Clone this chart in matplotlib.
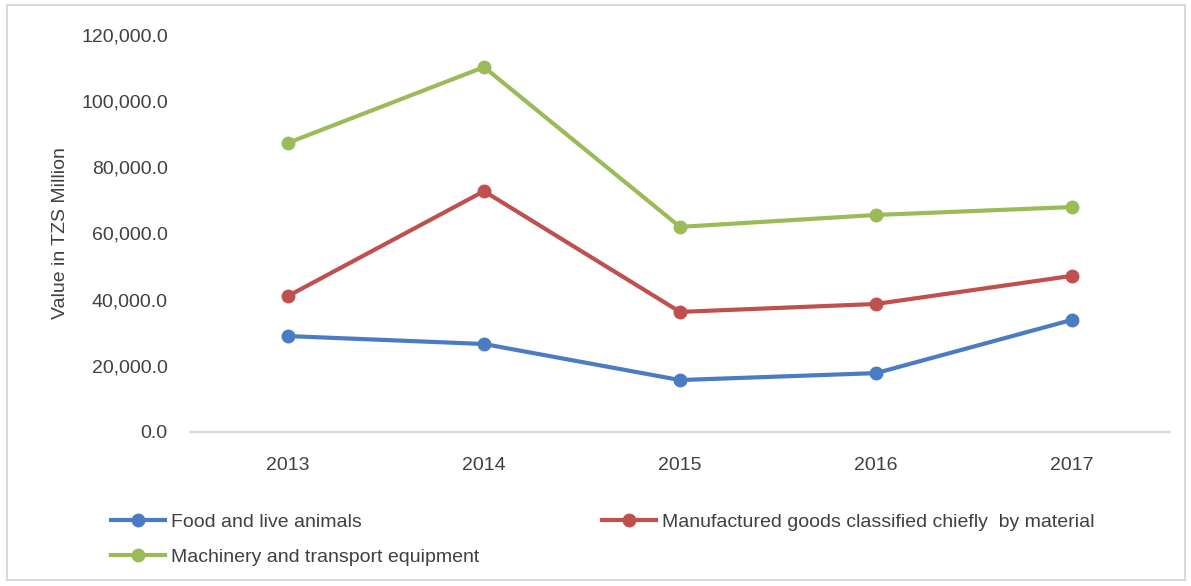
import matplotlib.pyplot as plt
from matplotlib.patches import Rectangle
from matplotlib.ticker import FuncFormatter

years = ["2013", "2014", "2015", "2016", "2017"]
food = [29000, 26600, 15700, 17800, 33900]
manufactured = [41100, 72800, 36300, 38700, 47200]
machinery = [87400, 110300, 62000, 65600, 68000]

labels = ["Food and live animals",
          "Manufactured goods classified chiefly  by material",
          "Machinery and transport equipment"]
colors = ["#4A7CC4", "#C0504D", "#9BBB59"]

plt.rcParams['font.family'] = ['Liberation Sans', 'DejaVu Sans']

W, H = 1191, 586
fig = plt.figure(figsize=(W / 100, H / 100), dpi=100)
ax = fig.add_axes([190 / W, 1 - 432 / H, 980 / W, 397 / H])

x = [i + 0.5 for i in range(len(years))]
lines = []
for vals, lab, col in zip([food, manufactured, machinery], labels, colors):
    ln, = ax.plot(x, vals, color=col, lw=3, marker='o', markersize=9, label=lab)
    lines.append(ln)

ax.set_xlim(0, len(years))
ax.set_ylim(0, 120000)
ax.set_yticks(range(0, 120001, 20000))
ax.yaxis.set_major_formatter(FuncFormatter(lambda v, p: f"{v:,.1f}"))
ax.set_xticks(x)
ax.set_xticklabels(years)
ax.tick_params(length=0, labelsize=14, colors='#404040')
ax.tick_params(axis='x', pad=18)
ax.tick_params(axis='y', pad=16)
for s in ['top', 'right', 'left']:
    ax.spines[s].set_visible(False)
ax.spines['bottom'].set_color('#D9D9D9')
ax.spines['bottom'].set_linewidth(1.5)
ax.set_ylabel("Value in TZS Million", fontsize=14, color='#404040', labelpad=9)

# legend: Food + Machinery in first column, Manufactured in second
fig.legend([lines[0], lines[2], lines[1]], [labels[0], labels[2], labels[1]],
           ncol=2, loc='upper left', bbox_to_anchor=(93 / W, 1 - 496 / H),
           frameon=False, fontsize=14, labelcolor='#404040',
           handlelength=2.8, handletextpad=0.3, columnspacing=6.3,
           labelspacing=0.9)

fig.patches.append(Rectangle((7 / W, 1 - 580 / H), 1178 / W, 575 / H,
                             transform=fig.transFigure, fill=False,
                             edgecolor='#D9D9D9', lw=1.5))

fig.savefig("out.png", dpi=100)
